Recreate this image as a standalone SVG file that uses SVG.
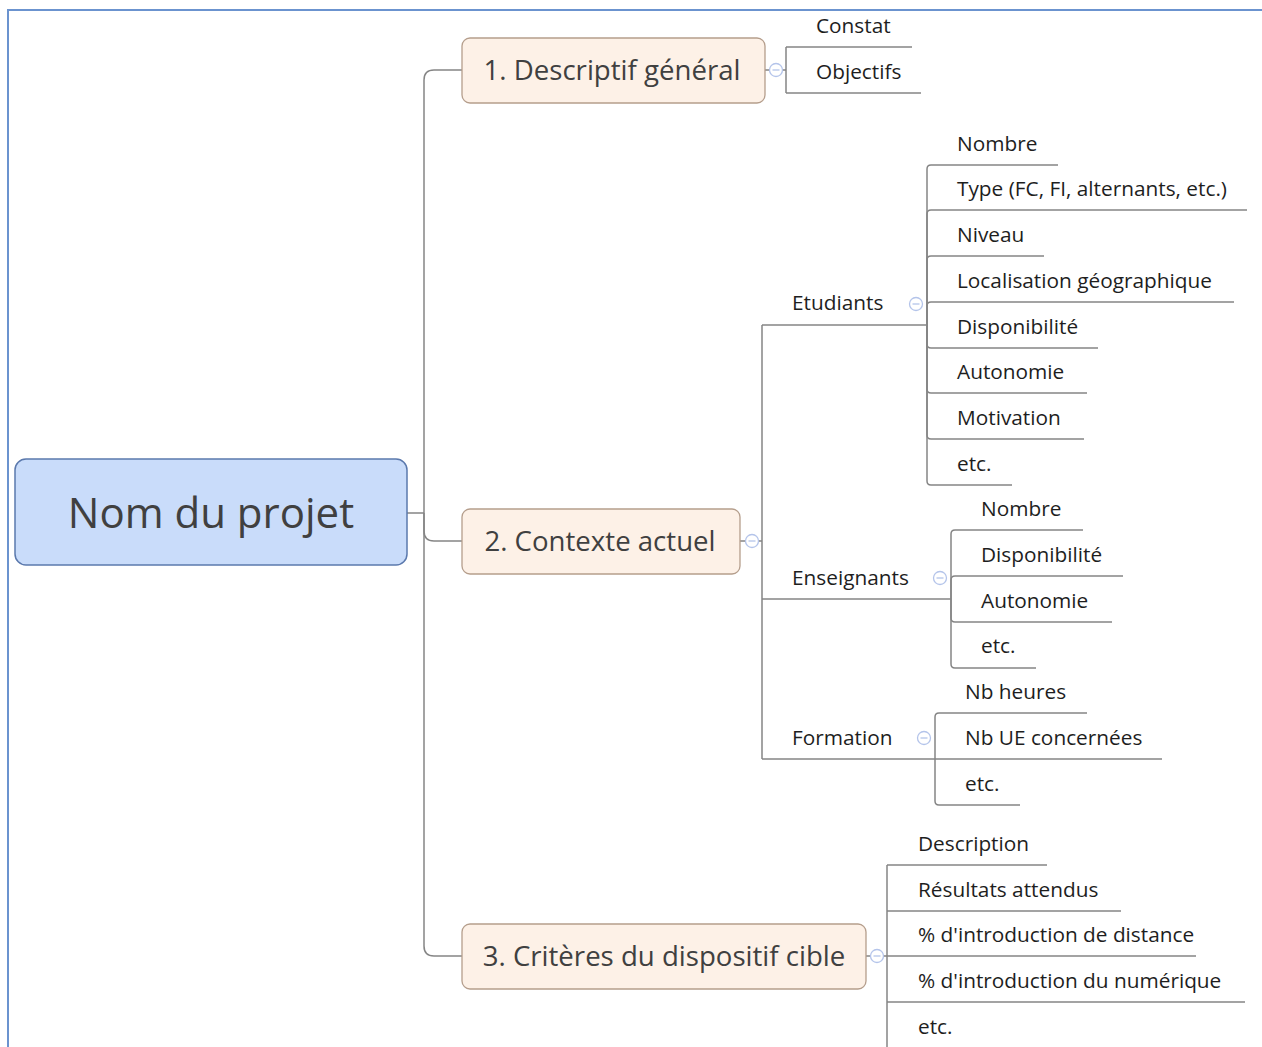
<svg xmlns="http://www.w3.org/2000/svg" width="1262" height="1047" viewBox="0 0 1262 1047">
<defs>
<style>
.frame{fill:none;stroke:#6b93cf;stroke-width:2}
.root{fill:#c9dcfa;stroke:#5b79ad;stroke-width:1.5}
.topic{fill:#fdf1e7;stroke:#b59e8c;stroke-width:1.3}
.tt{font-family:"Open Sans","Noto Sans",sans-serif;fill:#404040;text-anchor:middle;dominant-baseline:central}
.lbl{font-family:"Open Sans","Noto Sans",sans-serif;font-size:20.8px;fill:#1e1e1e;dominant-baseline:central}
.ln{fill:none;stroke:#858585;stroke-width:1.5}
.col{fill:#fff;stroke:#b4c4ea;stroke-width:1.3}
</style>
</defs>
<rect width="1262" height="1047" fill="#fff"/>
<path class="frame" d="M8 1047 V10 H1262"/>

<g id="connectors">
<path class="ln" d="M407 513 H424"/>
<path class="ln" d="M424 513 V80 Q424 70 434 70 H462"/>
<path class="ln" d="M424 513 V531 Q424 541 434 541 H462"/>
<path class="ln" d="M424 513 V946 Q424 956 434 956 H462"/>
<path class="ln" d="M765 70 H786"/>
<path class="ln" d="M786 47 V93"/>
<path class="ln" d="M786 47 H912"/>
<path class="ln" d="M786 93 H921"/>
<path class="ln" d="M740 541 H762"/>
<path class="ln" d="M762 325 V759"/>
<path class="ln" d="M762 325 H927"/>
<path class="ln" d="M762 599 H951"/>
<path class="ln" d="M762 759 H935"/>
<path class="ln" d="M927 325 V169 Q927 165 931 165 H1058"/>
<path class="ln" d="M927 325 V214 Q927 210 931 210 H1247"/>
<path class="ln" d="M927 325 V260 Q927 256 931 256 H1044"/>
<path class="ln" d="M927 325 V306 Q927 302 931 302 H1234"/>
<path class="ln" d="M927 325 V344 Q927 348 931 348 H1098"/>
<path class="ln" d="M927 325 V389 Q927 393 931 393 H1087"/>
<path class="ln" d="M927 325 V435 Q927 439 931 439 H1084"/>
<path class="ln" d="M927 325 V481 Q927 485 931 485 H1012"/>
<path class="ln" d="M951 599 V534 Q951 530 955 530 H1083"/>
<path class="ln" d="M951 599 V580 Q951 576 955 576 H1123"/>
<path class="ln" d="M951 599 V618 Q951 622 955 622 H1112"/>
<path class="ln" d="M951 599 V664 Q951 668 955 668 H1036"/>
<path class="ln" d="M935 759 V717 Q935 713 939 713 H1087"/>
<path class="ln" d="M935 759 H1162"/>
<path class="ln" d="M935 759 V801 Q935 805 939 805 H1020"/>
<path class="ln" d="M866 956 H887"/>
<path class="ln" d="M887 865 V1047"/>
<path class="ln" d="M887 865 H1047"/>
<path class="ln" d="M887 911 H1121"/>
<path class="ln" d="M887 956 H1196"/>
<path class="ln" d="M887 1002 H1245"/>
</g>

<g id="root">
<rect class="root" x="15" y="459" width="392" height="106" rx="11"/>
<text class="tt" x="211" y="511" font-size="42">Nom du projet</text>
</g>

<g id="n1">
<rect class="topic" x="462" y="38" width="303" height="65" rx="8"/>
<text class="tt" x="612" y="69" font-size="27.6">1. Descriptif général</text>
<circle class="col" cx="776" cy="70" r="6.5"/><path d="M772.5 70 H779.5" stroke="#b4c4ea" stroke-width="1.3"/>
</g>
<g id="n1a"><text class="lbl" x="816" y="25">Constat</text></g>
<g id="n1b"><text class="lbl" x="816" y="71">Objectifs</text></g>

<g id="n2">
<rect class="topic" x="462" y="509" width="278" height="65" rx="8"/>
<text class="tt" x="600" y="540" font-size="27.6">2. Contexte actuel</text>
<circle class="col" cx="752" cy="541" r="6.5"/><path d="M748.5 541 H755.5" stroke="#b4c4ea" stroke-width="1.3"/>
</g>

<g id="etudiants">
<text class="lbl" x="792" y="302">Etudiants</text>
<circle class="col" cx="916" cy="304" r="6.5"/><path d="M912.5 304 H919.5" stroke="#b4c4ea" stroke-width="1.3"/>
</g>
<g id="e1"><text class="lbl" x="957" y="143">Nombre</text></g>
<g id="e2"><text class="lbl" x="957" y="188">Type (FC, FI, alternants, etc.)</text></g>
<g id="e3"><text class="lbl" x="957" y="234">Niveau</text></g>
<g id="e4"><text class="lbl" x="957" y="280">Localisation géographique</text></g>
<g id="e5"><text class="lbl" x="957" y="326">Disponibilité</text></g>
<g id="e6"><text class="lbl" x="957" y="371">Autonomie</text></g>
<g id="e7"><text class="lbl" x="957" y="417">Motivation</text></g>
<g id="e8"><text class="lbl" x="957" y="463">etc.</text></g>

<g id="enseignants">
<text class="lbl" x="792" y="577">Enseignants</text>
<circle class="col" cx="940" cy="578" r="6.5"/><path d="M936.5 578 H943.5" stroke="#b4c4ea" stroke-width="1.3"/>
</g>
<g id="s1"><text class="lbl" x="981" y="508">Nombre</text></g>
<g id="s2"><text class="lbl" x="981" y="554">Disponibilité</text></g>
<g id="s3"><text class="lbl" x="981" y="600">Autonomie</text></g>
<g id="s4"><text class="lbl" x="981" y="645">etc.</text></g>

<g id="formation">
<text class="lbl" x="792" y="737">Formation</text>
<circle class="col" cx="924" cy="738" r="6.5"/><path d="M920.5 738 H927.5" stroke="#b4c4ea" stroke-width="1.3"/>
</g>
<g id="f1"><text class="lbl" x="965" y="691">Nb heures</text></g>
<g id="f2"><text class="lbl" x="965" y="737">Nb UE concernées</text></g>
<g id="f3"><text class="lbl" x="965" y="783">etc.</text></g>

<g id="n3">
<rect class="topic" x="462" y="924" width="404" height="65" rx="8"/>
<text class="tt" x="664" y="955" font-size="27.6">3. Critères du dispositif cible</text>
<circle class="col" cx="877" cy="956" r="6.5"/><path d="M873.5 956 H880.5" stroke="#b4c4ea" stroke-width="1.3"/>
</g>
<g id="c1"><text class="lbl" x="918" y="843">Description</text></g>
<g id="c2"><text class="lbl" x="918" y="889">Résultats attendus</text></g>
<g id="c3"><text class="lbl" x="918" y="934">% d'introduction de distance</text></g>
<g id="c4"><text class="lbl" x="918" y="980">% d'introduction du numérique</text></g>
<g id="c5"><text class="lbl" x="918" y="1026">etc.</text></g>
</svg>
